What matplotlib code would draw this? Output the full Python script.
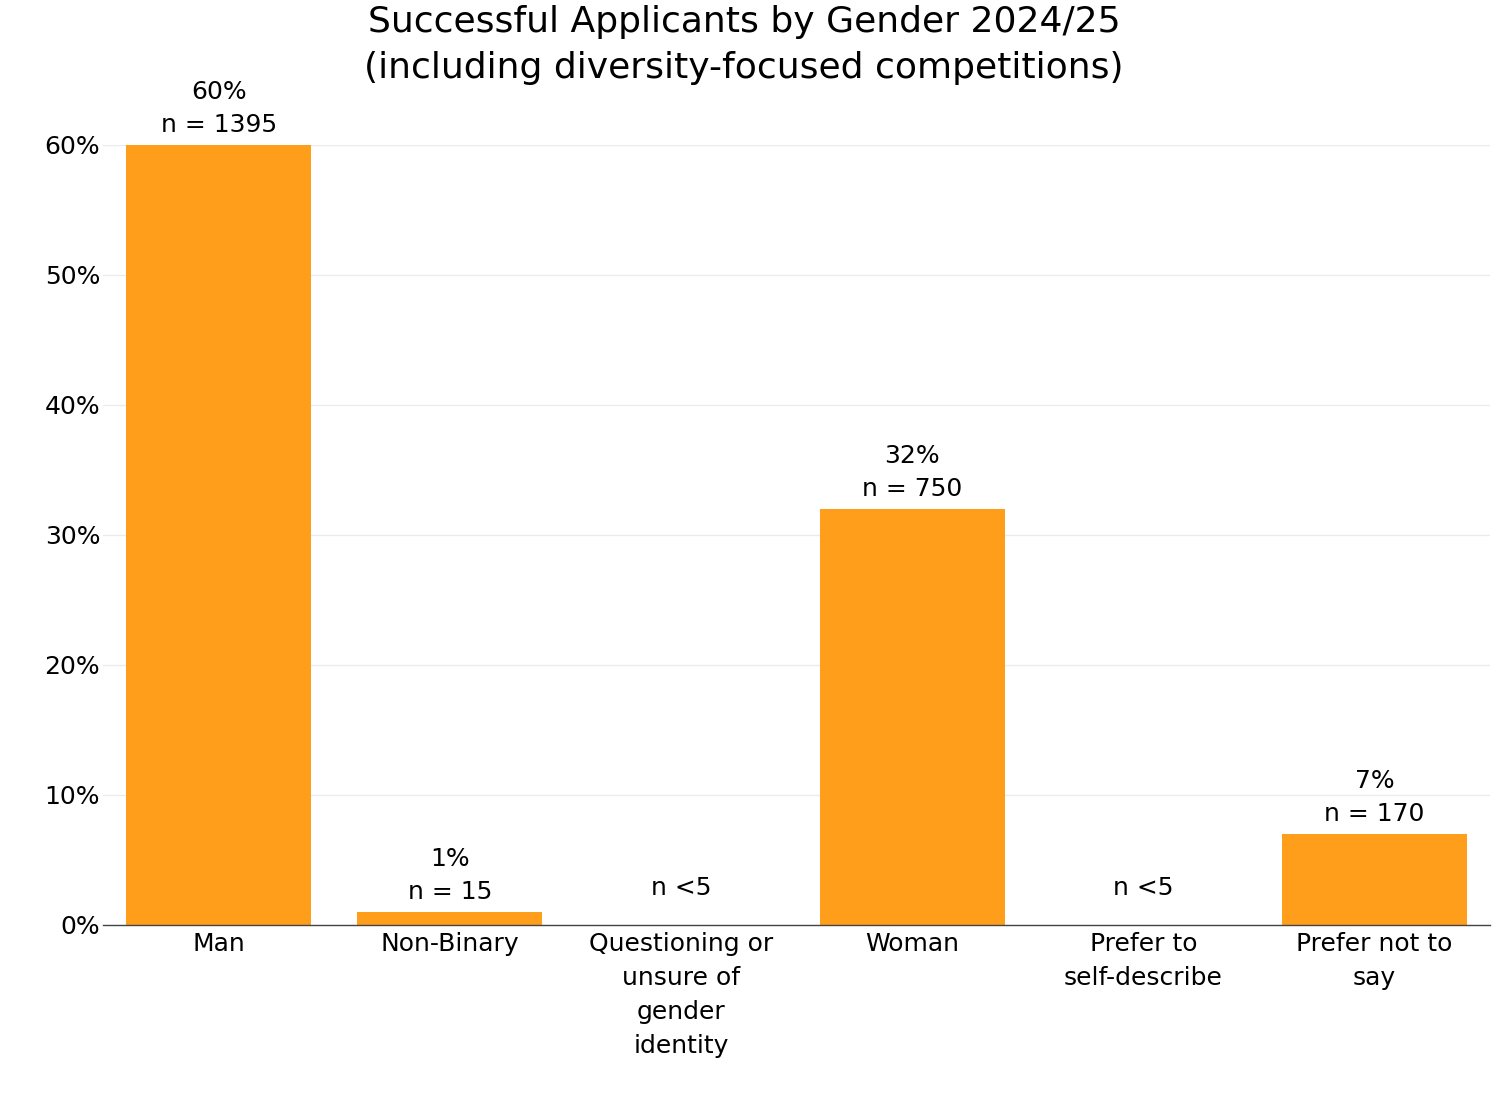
import matplotlib
matplotlib.use('Agg')
import matplotlib.pyplot as plt
from matplotlib.ticker import FuncFormatter

plt.rcParams['font.family'] = ['DejaVu Sans']

categories = ['Man', 'Non-Binary', 'Questioning or\nunsure of\ngender\nidentity',
              'Woman', 'Prefer to\nself-describe', 'Prefer not to\nsay']
percents = [60, 1, 0, 32, 0, 7]
bar_labels = ['60%\nn = 1395', '1%\nn = 15', 'n <5', '32%\nn = 750', 'n <5', '7%\nn = 170']
yticks = [0, 10, 20, 30, 40, 50, 60]

fs = 18

fig = plt.figure(figsize=(14.98, 10.98), dpi=100)
ax = fig.add_axes([103 / 1498, 1 - 925 / 1098, (1490 - 103) / 1498, (925 - 145) / 1098])

x = range(len(categories))
ax.bar(x, percents, width=0.8, color='#FF9E1B', zorder=2)

for i, (v, lab) in enumerate(zip(percents, bar_labels)):
    off = 5.5 if v > 0 else 18
    ax.annotate(lab, (i, v), xytext=(0, off), textcoords='offset points',
                ha='center', va='bottom', fontsize=fs, linespacing=1.5,
                color='black', annotation_clip=False)

ax.set_xlim(-0.5, len(categories) - 0.5)
ax.set_ylim(0, 60)
ax.set_yticks(yticks)
ax.yaxis.set_major_formatter(FuncFormatter(lambda v, p: '%d%%' % v))
ax.set_xticks(list(x))
ax.set_xticklabels(categories, linespacing=1.52)
ax.tick_params(axis='both', length=0, labelsize=fs, labelcolor='black')
ax.tick_params(axis='x', pad=5)
ax.tick_params(axis='y', pad=2)
ax.grid(axis='y', color='#ebebeb', linewidth=1, zorder=0)
for s in ['top', 'right', 'left']:
    ax.spines[s].set_visible(False)
ax.spines['bottom'].set_color('#444444')
ax.spines['bottom'].set_linewidth(1)
ax.spines['bottom'].set_zorder(3)

fig.text(0.4967, 0.995, 'Successful Applicants by Gender 2024/25\n(including diversity-focused competitions)',
         ha='center', va='top', fontsize=26, linespacing=1.42, color='black')

fig.savefig('out.png', dpi=100)
